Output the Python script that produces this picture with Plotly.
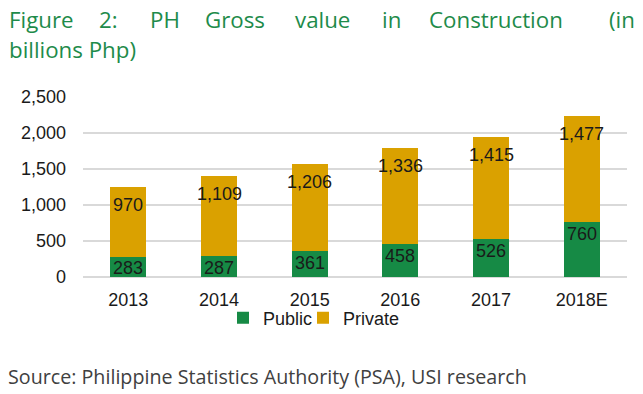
import plotly.graph_objects as go

years = ["2013", "2014", "2015", "2016", "2017", "2018E"]
public = [283, 287, 361, 458, 526, 760]
private = [970, 1109, 1206, 1336, 1415, 1477]
y_ticks = [0, 500, 1000, 1500, 2000, 2500]
y_tick_labels = ["0", "500", "1,000", "1,500", "2,000", "2,500"]

title_words = ["Figure", "2:", "PH", "Gross", "value", "in", "Construction", "(in"]
title_word_px = [7, 97, 148, 203, 293, 380, 427, 607]
title_line2 = "billions Php)"
source_text = "Source: Philippine Statistics Authority (PSA), USI research"

GREEN = "#168A45"
GOLD = "#DAA100"
TITLE_GREEN = "#1E8B4A"

W, H = 643, 394
L, R, T, B = 83, 627, 97, 277  # plot area in pixels


def px_x(px):
    return (px - L) / (R - L)


def px_y(py):
    return (B - py) / (B - T)


fig = go.Figure()
fig.add_trace(go.Bar(x=years, y=public, name="Public", marker_color=GREEN,
                     marker_line_width=0, legendwidth=35))
fig.add_trace(go.Bar(x=years, y=private, name="Private", marker_color=GOLD,
                     marker_line_width=0, legendwidth=70))

label_font = dict(family="Liberation Sans, Arial, sans-serif", size=18, color="#1a1a1a")
annotations = []
for i, (pu, pr) in enumerate(zip(public, private)):
    annotations.append(dict(x=i, y=pu, xref="x", yref="y", text=f"{pu:,}",
                            showarrow=False, yanchor="middle", yshift=-11.5,
                            font=label_font))
    annotations.append(dict(x=i, y=pu + pr, xref="x", yref="y", text=f"{pr:,}",
                            showarrow=False, yanchor="middle", yshift=-17.8,
                            font=label_font))

title_font = dict(family="Open Sans, sans-serif", size=22.3, color=TITLE_GREEN)
for word, px in zip(title_words, title_word_px):
    annotations.append(dict(x=px_x(px), y=px_y(19), xref="paper", yref="paper",
                            text=word, showarrow=False, xanchor="left",
                            yanchor="middle", font=title_font))
annotations.append(dict(x=px_x(7), y=px_y(49), xref="paper", yref="paper",
                        text=title_line2, showarrow=False, xanchor="left",
                        yanchor="middle", font=title_font))
annotations.append(dict(x=px_x(6), y=px_y(376), xref="paper", yref="paper",
                        text=source_text, showarrow=False, xanchor="left",
                        yanchor="middle",
                        font=dict(family="Open Sans, sans-serif", size=19.7,
                                  color="#404040")))

fig.update_layout(
    width=W, height=H,
    margin=dict(l=L, r=W - R, t=T, b=H - B, pad=0, autoexpand=False),
    paper_bgcolor="white", plot_bgcolor="white",
    barmode="stack", bargap=0.6,
    showlegend=True,
    legend=dict(orientation="h", x=px_x(223), xanchor="left",
                y=px_y(318), yanchor="middle",
                font=dict(family="Liberation Sans, Arial, sans-serif", size=18,
                          color="#1a1a1a"),
                traceorder="normal", bgcolor="rgba(0,0,0,0)"),
    annotations=annotations,
    font=dict(family="Liberation Sans, Arial, sans-serif", size=18, color="#1a1a1a"),
)
fig.update_xaxes(type="category", range=[-0.5, len(years) - 0.5],
                 showgrid=False, showline=False, ticks="",
                 tickfont=dict(size=18, color="#1a1a1a"), ticklabelstandoff=10)
fig.update_yaxes(range=[0, 2500], tickvals=y_ticks, ticktext=y_tick_labels,
                 showgrid=True, gridcolor="#D9D9D9", gridwidth=2,
                 zeroline=True, zerolinecolor="#D9D9D9", zerolinewidth=2,
                 showline=False, ticks="", ticklabelstandoff=16,
                 tickfont=dict(size=18, color="#1a1a1a"))

fig.write_html("out.html", config={"displayModeBar": False},
               post_script="document.body.style.margin='0';")
